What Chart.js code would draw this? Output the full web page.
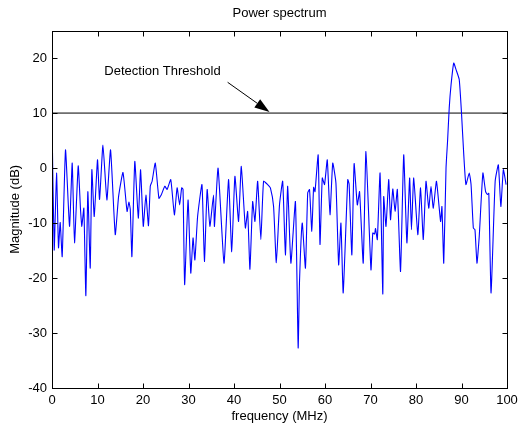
<!DOCTYPE html>
<html>
<head>
<meta charset="utf-8">
<script src="https://cdn.jsdelivr.net/npm/chart.js@4/dist/chart.umd.min.js"></script>
<style>
  html, body { margin: 0; padding: 0; background: #fff; }
  #wrap { width: 519px; height: 430px; }
</style>
</head>
<body>
<div id="wrap"><canvas id="spectrumChart" width="519" height="430"></canvas></div>
<script>
// frequency (MHz) and magnitude (dB)
var freq = [0.0, 0.48, 1.0, 1.43, 1.8, 2.24, 2.97, 3.85, 4.44, 4.95, 5.76, 6.27, 6.56, 7.0, 7.44, 7.88, 8.4, 8.76, 9.28, 10.0,
    10.45, 11.2, 12.06, 12.87, 13.9, 14.63, 15.6, 16.5, 16.9, 17.2, 17.56, 18.2, 18.97, 19.47, 20.06, 20.64, 21.2, 21.6, 22.0, 22.7,
    23.5, 24.0, 24.8, 25.3, 26.1, 26.9, 27.5, 28.05, 28.5, 28.8, 29.15, 29.9, 30.5, 31.0, 31.4, 32.0, 32.96, 33.5, 34.1, 34.7,
    35.5, 35.7, 36.5, 37.8, 38.8, 39.5, 40.2, 41.0, 41.6, 42.5, 43.0, 43.5, 44.1, 44.6, 45.2, 45.9, 46.5, 47.4, 48.0, 48.7,
    49.3, 50.0, 50.7, 51.3, 51.8, 52.5, 53.5, 54.1, 54.4, 55.0, 55.7, 56.2, 56.6, 57.1, 57.5, 57.8, 58.5, 58.9, 59.4, 59.9,
    60.5, 61.1, 61.7, 62.4, 63.0, 63.5, 64.0, 65.0, 65.3, 65.9, 66.4, 67.1, 67.6, 68.4, 69.0, 70.1, 70.5, 70.9, 71.1, 71.5,
    72.1, 72.7, 72.9, 73.4, 74.0, 74.4, 74.9, 75.4, 75.9, 76.6, 77.3, 78.0, 78.6, 79.0, 79.5, 80.4, 81.0, 81.6, 82.2, 82.8,
    83.3, 83.8, 84.5, 85.4, 85.7, 86.1, 86.6, 86.95, 87.3, 87.7, 88.3, 88.8, 89.5, 90.0, 90.5, 90.97, 91.7, 92.1, 92.6, 92.96,
    93.4, 93.9, 94.7, 95.3, 95.7, 96.0, 96.5, 97.4, 98.1, 98.65, 99.2, 99.8];
var magnitude = [8.8, -14.9, -0.9, -14.5, -9.9, -16.1, 3.3, -10.6, 0.9, -13.6, 0.4, -7.6, -10.6, -7.3, -23.2, -4.3, -18.2, -0.3, -8.8, 1.5,
    -5.7, 4.2, -5.8, 3.3, -12.1, -5.2, -0.8, -7.9, -6.2, -7.5, -16.1, 1.2, -9.1, -0.3, -10.6, -4.9, -10.5, -3.3, -2.4, 0.9,
    -5.5, -4.9, -3.3, -3.9, -2.1, -8.5, -3.6, -6.7, -3.6, -3.9, -21.2, -5.8, -19.1, -12.7, -16.7, -8.8, -3.0, -17.0, -3.9, -10.6,
    -4.9, -10.6, 0.0, -17.3, -2.1, -15.2, -1.5, -9.7, 0.3, -10.9, -7.9, -18.4, -6.1, -9.7, -2.4, -13.0, -2.4, -3.0, -3.6, -7.0,
    -17.2, -6.7, -2.4, -15.8, -3.3, -17.3, -6.1, -32.7, -20.6, -10.0, -18.2, -4.5, -3.9, -11.5, -3.5, -4.3, 2.4, -13.9, -1.8, -3.0,
    1.5, -8.5, 0.9, -2.7, -17.6, -10.0, -22.7, -2.1, -2.9, -15.8, 0.8, -6.7, -4.3, -17.3, 3.0, -18.5, -11.8, -12.0, -11.0, -13.0,
    -0.9, -22.9, -5.2, -10.6, -2.1, -9.4, -3.8, -7.9, -3.9, -18.8, 2.4, -13.6, -1.8, -11.2, -1.8, -12.1, -3.6, -13.0, -2.4, -7.3,
    -3.3, -7.3, -2.4, -9.7, -7.0, -17.3, 0.0, 5.1, 10.9, 15.1, 19.1, 17.9, 16.1, 10.0, 2.4, -3.0, -0.9, -3.0, -10.9, -11.2,
    -17.3, -12.4, -0.9, -4.3, -4.8, -4.6, -22.7, -2.4, 0.6, -7.0, -0.3, -3.0];
var thresholdDb = 10;
var xTicks = [0, 10, 20, 30, 40, 50, 60, 70, 80, 90, 100];
var yTicks = [-40, -30, -20, -10, 0, 10, 20];
// where the note sits and where its arrow points (data units)
var noteText = "Detection Threshold";
var notePos = [11.5, 17.5];
var arrowFrom = [38.6, 15.6];
var arrowTo = [47.8, 10.2];

Chart.defaults.font.family = "'Liberation Sans', Arial, sans-serif";
Chart.defaults.font.size = 13;
Chart.defaults.color = "#000";

var spectrumPoints = [];
for (var i = 0; i < freq.length; i++) {
    spectrumPoints.push({x: freq[i], y: magnitude[i]});
}

// MATLAB-like box, inward ticks and the arrow note
var boxPlugin = {
    id: "matlabBox",
    afterDraw: function (chart) {
        var ctx = chart.ctx;
        var a = chart.chartArea;
        var xs = chart.scales.x;
        var ys = chart.scales.y;
        var L = Math.round(a.left) + 0.5, R = Math.round(a.right) + 0.5;
        var T = Math.round(a.top) + 0.5, B = Math.round(a.bottom) + 0.5;
        ctx.save();
        ctx.strokeStyle = "#000";
        ctx.lineWidth = 1;
        ctx.strokeRect(L, T, R - L, B - T);
        ctx.beginPath();
        xTicks.forEach(function (v) {
            var px = Math.round(xs.getPixelForValue(v)) + 0.5;
            ctx.moveTo(px, B); ctx.lineTo(px, B - 5);
            ctx.moveTo(px, T); ctx.lineTo(px, T + 5);
        });
        yTicks.forEach(function (v) {
            var py = Math.round(ys.getPixelForValue(v)) + 0.5;
            ctx.moveTo(L, py); ctx.lineTo(L + 5, py);
            ctx.moveTo(R, py); ctx.lineTo(R - 5, py);
        });
        ctx.stroke();

        // note text
        ctx.fillStyle = "#000";
        ctx.font = "13px 'Liberation Sans', Arial, sans-serif";
        ctx.textBaseline = "middle";
        ctx.textAlign = "left";
        ctx.fillText(noteText, xs.getPixelForValue(notePos[0]), ys.getPixelForValue(notePos[1]));

        // arrow
        var x1 = xs.getPixelForValue(arrowFrom[0]), y1 = ys.getPixelForValue(arrowFrom[1]);
        var x2 = xs.getPixelForValue(arrowTo[0]), y2 = ys.getPixelForValue(arrowTo[1]);
        var ang = Math.atan2(y2 - y1, x2 - x1);
        var headLen = 15, headW = 5;
        ctx.beginPath();
        ctx.moveTo(x1, y1);
        ctx.lineTo(x2 - headLen * Math.cos(ang), y2 - headLen * Math.sin(ang));
        ctx.stroke();
        ctx.beginPath();
        ctx.moveTo(x2, y2);
        ctx.lineTo(x2 - headLen * Math.cos(ang) + headW * Math.sin(ang), y2 - headLen * Math.sin(ang) - headW * Math.cos(ang));
        ctx.lineTo(x2 - headLen * Math.cos(ang) - headW * Math.sin(ang), y2 - headLen * Math.sin(ang) + headW * Math.cos(ang));
        ctx.closePath();
        ctx.fill();
        ctx.restore();
    }
};

var ctx = document.getElementById("spectrumChart").getContext("2d");
new Chart(ctx, {
    type: "line",
    data: {
        datasets: [
            {
                label: "Power spectrum",
                data: spectrumPoints,
                borderColor: "#0000ff",
                borderWidth: 1.1,
                pointRadius: 0,
                tension: 0.15,
                fill: false
            },
            {
                label: "Detection Threshold",
                data: [{x: 0, y: thresholdDb}, {x: 100, y: thresholdDb}],
                borderColor: "#000",
                borderWidth: 1,
                pointRadius: 0,
                fill: false
            }
        ]
    },
    options: {
        responsive: false,
        animation: false,
        layout: {padding: {top: 0, right: 0, bottom: 0, left: 0}},
        plugins: {
            legend: {display: false},
            tooltip: {enabled: false},
            title: {
                display: true,
                text: "Power spectrum",
                fullSize: false,
                font: {size: 13, weight: "normal"},
                color: "#000",
                padding: {top: 6, bottom: 9}
            }
        },
        scales: {
            x: {
                type: "linear",
                min: 0,
                max: 100,
                grid: {display: false, drawTicks: false},
                border: {display: false},
                ticks: {stepSize: 10, padding: 5, color: "#000", maxRotation: 0, includeBounds: false},
                title: {display: true, text: "frequency (MHz)", color: "#000", padding: {top: 0, bottom: 6}},
                afterFit: function (scale) {
                    scale.height = 42;
                    scale.paddingRight = 12;
                }
            },
            y: {
                type: "linear",
                min: -40,
                max: 25,
                grid: {display: false, drawTicks: false},
                border: {display: false},
                ticks: {stepSize: 10, padding: 5, color: "#000", includeBounds: false},
                title: {display: true, text: "Magnitude (dB)", color: "#000", padding: {top: 8, bottom: 0}},
                afterFit: function (scale) { scale.width = 52; }
            }
        }
    },
    plugins: [boxPlugin]
});
</script>
</body>
</html>
